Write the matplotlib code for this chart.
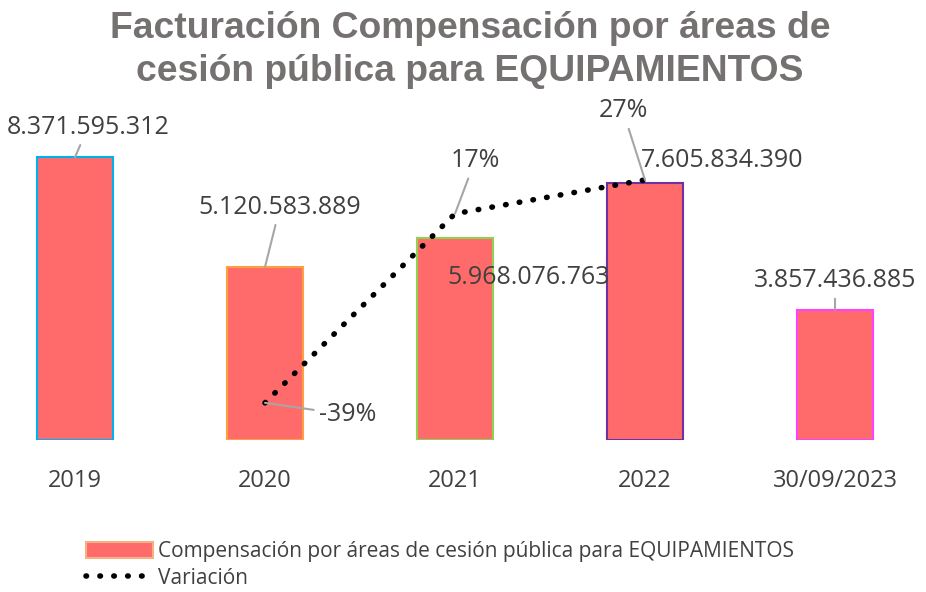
import matplotlib
matplotlib.use("Agg")
import matplotlib.pyplot as plt
from matplotlib.patches import Patch
from matplotlib.lines import Line2D
from matplotlib.ticker import FixedLocator

categories = ["2019", "2020", "2021", "2022", "30/09/2023"]
values = [8371595312, 5120583889, 5968076763, 7605834390, 3857436885]
value_labels = ["8.371.595.312", "5.120.583.889", "5.968.076.763", "7.605.834.390", "3.857.436.885"]
variation_idx = [1, 2, 3]
variation = [-39, 17, 27]
variation_labels = ["-39%", "17%", "27%"]

edge_colors = ["#00B0F0", "#FFA040", "#92D050", "#7030A0", "#FF40FF"]
bar_color = "#FF6B6B"
txt_color = "#404040"
leader = "#A6A6A6"
font = "Open Sans"

W, H = 926, 592
fig = plt.figure(figsize=(W / 100, H / 100), dpi=100)
ax = fig.add_axes([-20 / W, (H - 440) / H, 950 / W, 304 / H])
ax2 = ax.twinx()

x = list(range(len(categories)))
ax.bar(x, values, width=0.395, color=bar_color, edgecolor=edge_colors, linewidth=1.5, zorder=2)
ax.set_xlim(-0.5, len(categories) - 0.5)
ax.set_ylim(0, 9e9)
ax2.set_ylim(-50, 40)
ax.xaxis.set_major_locator(FixedLocator(x))
ax.set_xticklabels(categories, fontsize=17, color=txt_color, family=font)
ax.tick_params(axis="x", length=0, pad=21)
ax.set_yticks([])
ax2.set_yticks([])
for a in (ax, ax2):
    for s in a.spines.values():
        s.set_visible(False)

ax2.plot(variation_idx, variation, color="black", linestyle=(0, (0.1, 2.4)),
         linewidth=4, dash_capstyle="round", zorder=3)

# bar value labels (offsets in pixels)
bar_offsets = [(13, 30), (15, 60), (74, -39), (77, 23), (0, 29)]
bar_leader = [True, True, False, False, True]
for i, (v, lab) in enumerate(zip(values, value_labels)):
    ap = dict(arrowstyle="-", color=leader, lw=1.5, shrinkA=2, shrinkB=0) if bar_leader[i] else None
    ax.annotate(lab, xy=(i, v), xytext=bar_offsets[i], textcoords="offset pixels",
                ha="center", va="center", fontsize=18, color=txt_color, family=font,
                arrowprops=ap, zorder=5)

var_offsets = [(83, -12), (20, 53), (-22, 69)]
for xi, v, lab, off in zip(variation_idx, variation, variation_labels, var_offsets):
    ax2.annotate(lab, xy=(xi, v), xytext=off, textcoords="offset pixels",
                 ha="center", va="center", fontsize=18, color=txt_color, family=font,
                 arrowprops=dict(arrowstyle="-", color=leader, lw=1.5, shrinkA=2, shrinkB=0),
                 zorder=5)

fig.text(470 / W, 1 - 50 / H, "Facturación Compensación por áreas de\ncesión pública para EQUIPAMIENTOS",
         ha="center", va="center", fontsize=26.8, fontweight="bold", color="#767171",
         family="Liberation Sans", linespacing=1.33)

handles = [Patch(facecolor=bar_color, edgecolor="#F4B183", linewidth=1.5),
           Line2D([0], [0], color="black", linestyle=(0, (0.1, 2.4)), linewidth=4, dash_capstyle="round")]
labels = ["Compensación por áreas de cesión pública para EQUIPAMIENTOS", "Variación"]
fig.legend(handles, labels, loc="upper left", bbox_to_anchor=(78 / W, 1 - 533 / H), frameon=False,
           prop={"family": font, "size": 15}, labelcolor=txt_color, handlelength=3.2,
           handleheight=0.8, handletextpad=0.25, labelspacing=0.25, borderaxespad=0)

fig.savefig("out.png", dpi=100)
